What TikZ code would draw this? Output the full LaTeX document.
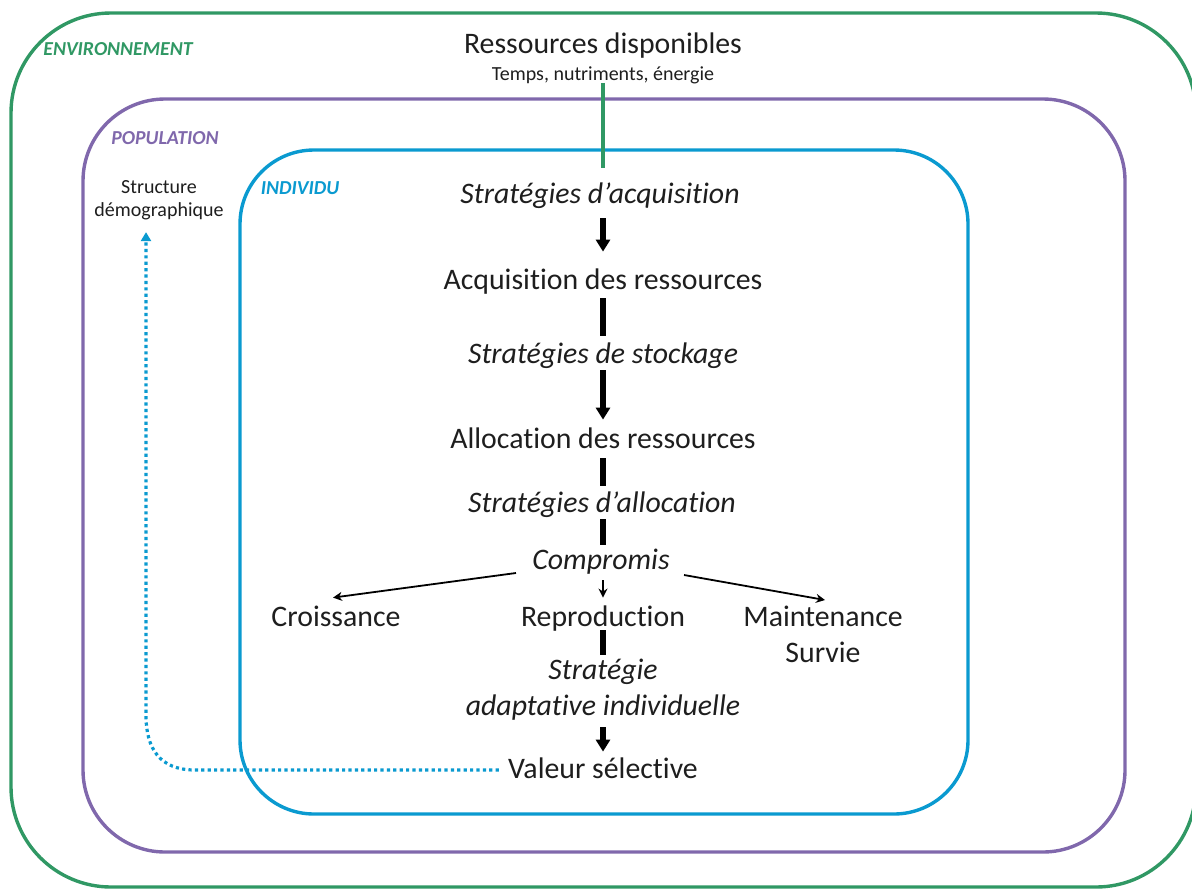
\documentclass[tikz,border=0pt]{standalone}
\usepackage{fontspec}
\setmainfont{Carlito}[Ligatures=NoCommon]
\usetikzlibrary{arrows.meta,calc}
\definecolor{envgreen}{RGB}{48,152,100}
\definecolor{poppurple}{RGB}{128,104,172}
\definecolor{indblue}{RGB}{10,154,208}
\definecolor{txt}{RGB}{30,30,30}
\begin{document}
\begin{tikzpicture}[x=0.5pt,y=-0.5pt,
  every node/.style={inner sep=0pt, text=txt},
  main/.style={font=\fontsize{14.9}{18}\selectfont, text height=11.5pt, text depth=3.5pt},
  strat/.style={font=\fontsize{14.9}{18}\selectfont\itshape, text height=11.5pt, text depth=3.5pt},
  multi/.style={font=\fontsize{14.9}{18}\selectfont, align=center},
  small/.style={font=\fontsize{10}{11.5}\selectfont, align=center},
  levellab/.style={font=\fontsize{9.9}{12}\selectfont\bfseries\itshape},
  thickline/.style={line width=2.6pt, draw=black},
  thickarrow/.style={line width=2.6pt, draw=black, -{Triangle[width=7pt,length=6pt]}},
  thinarrow/.style={line width=0.9pt, draw=black, -{Stealth[width=4.5pt,length=4.5pt]}},
  frame/.style={line width=1.7pt}]
\useasboundingbox (0,0) rectangle (1192,889);
\begin{scope}
\clip (0,0) rectangle (1192,889);
\draw[frame, envgreen, rounded corners=50pt] (11,13) rectangle (1196,887);
\end{scope}
\draw[frame, poppurple, rounded corners=41pt] (83,99) rectangle (1125,852);
\draw[frame, indblue, rounded corners=37pt] (240,150) rectangle (968,814);

\node[levellab, text=envgreen] (env) at (118,49) {ENVIRONNEMENT};
\node[levellab, text=poppurple] (pop) at (165,138) {POPULATION};
\node[levellab, text=indblue] (ind) at (300,188) {INDIVIDU};

\node[main] (res) at (603,45) {Ressources disponibles};
\node[small, text height=7.5pt, text depth=2pt] (temps) at (603,75) {Temps, nutriments, énergie};
\node[small] (struct) at (159,200) {Structure\\démographique};

\node[strat] (sacq) at (600,195) {Stratégies d’acquisition};
\node[main] (acq) at (603,281) {Acquisition des ressources};
\node[strat] (sstock) at (603,355) {Stratégies de stockage};
\node[main] (alloc) at (603,440) {Allocation des ressources};
\node[strat] (salloc) at (602,504) {Stratégies d’allocation};
\node[strat] (comp) at (601,561) {Compromis};
\node[main] (croi) at (336,618) {Croissance};
\node[main] (repro) at (603,618) {Reproduction};
\node[multi] (maint) at (823,634) {Maintenance\\Survie};
\node[multi, font=\fontsize{14.9}{18}\selectfont\itshape] (sadapt) at (603,690) {Stratégie\\adaptative individuelle};
\node[main] (val) at (603,770) {Valeur sélective};

\coordinate (bend) at (146,715);

\draw[envgreen, line width=2.4pt, shorten <=-1pt, shorten >=6pt] (temps.south -| res.south) -- (sacq.north -| res.south);
\draw[thickarrow, shorten <=4pt, shorten >=7pt] (sacq.south -| acq.south) -- (acq.north);
\draw[thickline, shorten <=1pt, shorten >=2pt] (acq.south) -- (sstock.north);
\draw[thickarrow, shorten >=2.5pt] (sstock.south) -- (alloc.north);
\draw[thickline, shorten <=1.5pt, shorten >=1.5pt] (alloc.south) -- (salloc.north -| alloc.north);
\draw[thickline, shorten >=0.5pt] (salloc.south -| alloc.south) -- (comp.north -| alloc.north);
\draw[thinarrow] ([xshift=-8pt,yshift=-6pt]comp.west) -- ([xshift=-1.5pt,yshift=2.5pt]croi.north);
\draw[thinarrow, shorten <=2pt, shorten >=2.5pt] (comp.south -| repro.north) -- (repro.north);
\draw[thinarrow] ([xshift=7pt,yshift=-7pt]comp.east) -- ([xshift=1pt,yshift=17pt]maint.center);
\draw[thickline] ([yshift=1.5pt]repro.south) -- ([yshift=17.5pt]sadapt.center);
\draw[thickarrow, shorten >=1.5pt] ([yshift=-18.5pt]sadapt.center) -- (val.north);

\draw[indblue, line width=1.6pt, dash pattern=on 1.6pt off 1.6pt, -{Triangle[width=5pt,length=4.5pt]}, shorten >=6pt]
  ([xshift=-4.5pt]val.west) -- (val.west -| 195,0) .. controls (val.west -| 160,0) and ([yshift=-17pt]bend) .. (bend) -- (bend |- struct.south);
\end{tikzpicture}
\end{document}
